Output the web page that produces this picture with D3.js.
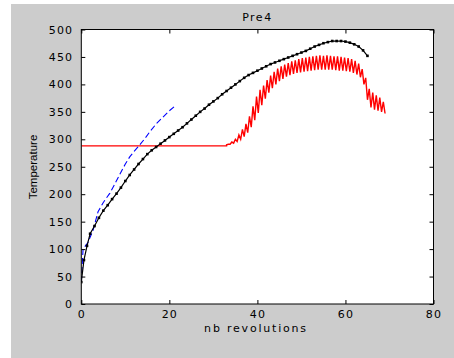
<!DOCTYPE html>
<html><head><meta charset="utf-8">
<script src="https://cdn.jsdelivr.net/npm/d3@7"></script>
<style>body{margin:0;background:#fff}svg{display:block}</style>
</head><body>
<svg id="c" width="454" height="358"></svg>
<script>
const title = "Pre4";
const xLabel = "nb revolutions";
const yLabel = "Temperature";
const xTicks = [0, 20, 40, 60, 80];
const yTicks = [0, 50, 100, 150, 200, 250, 300, 350, 400, 450, 500];

// black series (with markers)
const blackX = [0,0.6,1.3,2,3,4,5,6,7,8,9,10,11,12,13,14,15,16,17,18,19,20,21,22,23,24,25,26,27,28,29,30,31,32,33,34,35,36,37,38,39,40,41,42,43,44,45,46,47,48,49,50,51,52,53,54,55,56,57,58,59,60,61,62,63,64,65];
const blackY = [40,80,106,128,142,157,170,180,191,201,212,224,235,245,255,264,273,280,286,292,298,304,310,316,322,329,336,343,350,356,363,369,375,382,388,394,400,406,412,417,421,425,429,433,437,440,443,446,449,452,455,458,461,465,469,472,475,477,479,479,479,478,476,473,469,462,452];

// blue dashed series
const blueX = [0,0.4,1.5,2.7,3.8,5,6.5,7.7,9,10,11,12,13.3,14.5,15.6,17,18.5,20,21.5];
const blueY = [40,100,112,135,168,185,202,220,240,255,268,278,290,302,314,328,340,352,362];

// red series: flat start, then oscillating part sampled every 0.4 rev from x=33
const redFlatX = [0, 33];
const redFlatY = [288, 288];
const redOscStart = 33;
const redOscStep = 0.4;
const redOscY = [290,291,291,295,293,300,296,308,300,318,305,328,312,342,322,360,335,378,348,390,
  362,398,374,408,385,416,393,423,400,429,406,433,410,436,414,439,417,442,419,444,
  421,446,422,448,423,449,424,450,425,451,426,452,427,453,427,452,427,453,427,452,
  427,451,426,451,425,450,425,449,424,448,423,446,421,443,418,438,413,428,400,412,
  372,392,358,385,354,380,352,376,350,368,347];

const svg = d3.select("#c");
const W = 454, H = 358;
const L = 81.3, R = 433.5, T = 29.5, B = 304;

svg.append("rect").attr("x",11).attr("y",4).attr("width",W-11).attr("height",H-4).attr("fill","#cccccc");
svg.append("rect").attr("x",L).attr("y",T).attr("width",R-L).attr("height",B-T).attr("fill","#ffffff");

const x = d3.scaleLinear().domain([0,80]).range([L,R]);
const y = d3.scaleLinear().domain([0,500]).range([B,T]);

svg.append("clipPath").attr("id","pc").append("rect")
  .attr("x",L).attr("y",T-2).attr("width",R-L).attr("height",B-T+4);
const g = svg.append("g").attr("clip-path","url(#pc)");

const line = d3.line().x(d=>x(d[0])).y(d=>y(d[1]));

// red
const redPts = redFlatX.map((v,i)=>[v,redFlatY[i]]).concat(redOscY.map((v,i)=>[redOscStart+i*redOscStep, v]));
g.append("path").attr("d",line(redPts)).attr("fill","none").attr("stroke","#ff0000").attr("stroke-width",1.4).attr("stroke-linejoin","miter");

// blue dashed
const bluePts = blueX.map((v,i)=>[v,blueY[i]]);
g.append("path").attr("d",line(bluePts)).attr("fill","none").attr("stroke","#0000ff").attr("stroke-width",1.1).attr("stroke-dasharray","6,3");

// black
const blackPts = blackX.map((v,i)=>[v,blackY[i]]);
g.append("path").attr("d",line(blackPts)).attr("fill","none").attr("stroke","#000").attr("stroke-width",1.2);
g.selectAll("rect.m").data(blackPts).enter().append("rect").attr("class","m")
  .attr("x",d=>x(d[0])-1.3).attr("y",d=>y(d[1])-1.3).attr("width",2.6).attr("height",2.6).attr("fill","#000");

// axes
const font = "DejaVu Sans, sans-serif";
function styleAxis(sel){
  sel.select(".domain").remove();
  sel.selectAll(".tick line").attr("stroke","#000");
  sel.selectAll(".tick text").attr("font-family",font).attr("font-size",11).attr("fill","#000").style("letter-spacing","1.2px");
}
svg.append("g").attr("transform",`translate(0,${B})`)
  .call(d3.axisBottom(x).tickValues(xTicks).tickSize(-4).tickPadding(6).tickFormat(d3.format("d"))).call(styleAxis);
svg.append("g").attr("transform",`translate(0,${T})`)
  .call(d3.axisTop(x).tickValues(xTicks).tickSize(-4).tickFormat("")).call(styleAxis);
svg.append("g").attr("transform",`translate(${L},0)`)
  .call(d3.axisLeft(y).tickValues(yTicks).tickSize(-4).tickPadding(8).tickFormat(d3.format("d"))).call(styleAxis);
svg.append("g").attr("transform",`translate(${R},0)`)
  .call(d3.axisRight(y).tickValues(yTicks).tickSize(-4).tickFormat("")).call(styleAxis);

// frame
svg.append("rect").attr("x",L).attr("y",T).attr("width",R-L).attr("height",B-T)
  .attr("fill","none").attr("stroke","#000").attr("stroke-width",1);

svg.append("text").attr("x",(L+R)/2).attr("y",21).attr("text-anchor","middle")
  .attr("font-family",font).attr("font-size",11).style("letter-spacing","1.5px").text(title);
svg.append("text").attr("x",256).attr("y",332).attr("text-anchor","middle")
  .attr("font-family",font).attr("font-size",11).style("letter-spacing","1.8px").text(xLabel);
svg.append("text").attr("transform","translate(37,167) rotate(-90)").attr("text-anchor","middle")
  .attr("font-family","Liberation Sans, Arial, sans-serif").attr("font-size",11.5).text(yLabel);
</script>
</body></html>
